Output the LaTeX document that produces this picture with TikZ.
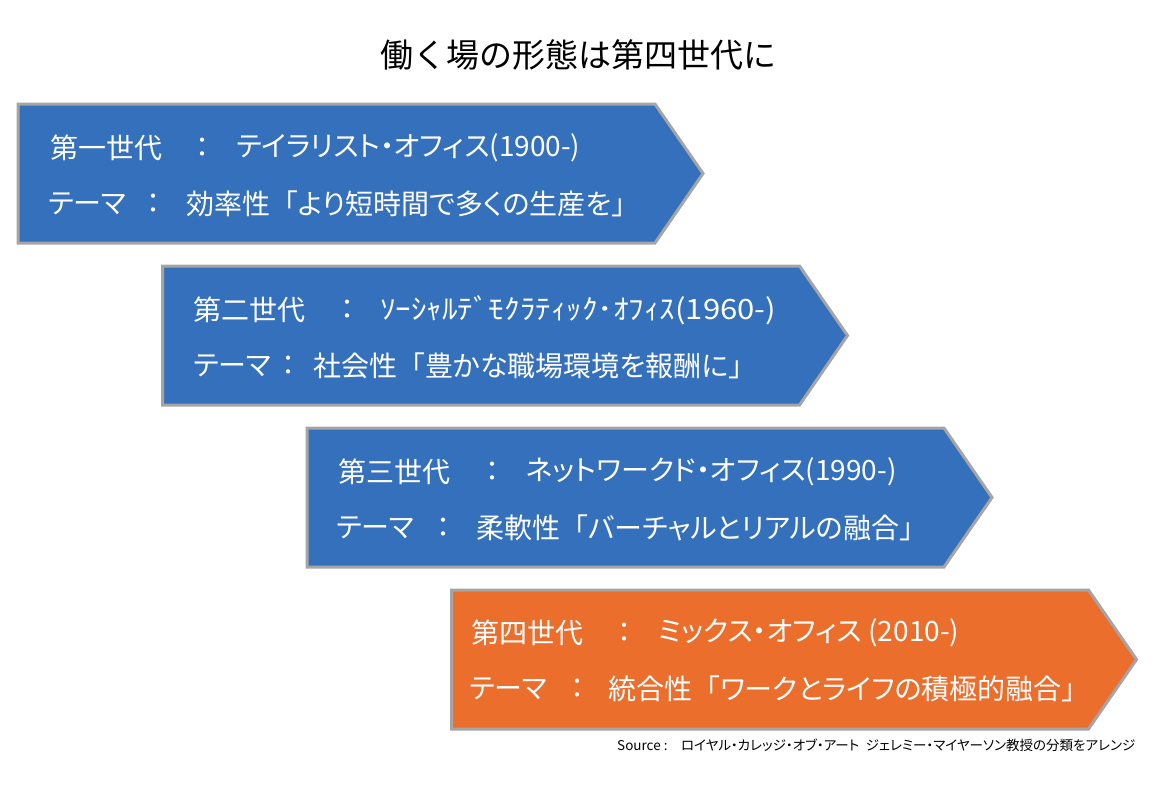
\documentclass[tikz,border=0pt]{standalone}
\usepackage{fontspec}
\setmainfont[RawFeature=+palt]{Noto Sans CJK JP}
\newfontfamily\jpfull{Noto Sans CJK JP}
\newfontfamily\jphalf[FakeStretch=1.11]{Noto Sans CJK JP}
\usepackage{xcolor}
\usepackage{tikz}

\definecolor{genblue}{RGB}{52,112,187}
\definecolor{genorange}{RGB}{235,110,45}
\definecolor{genedge}{RGB}{165,165,165}

\newcommand{\lbr}{{\jpfull 「}}
\newcommand{\rbr}{{\jpfull 」}}

\begin{document}
\begin{tikzpicture}[x=1pt, y=-1pt,
    genarrow/.style={draw=genedge, line width=3pt, line join=miter},
    gentext/.style={text=white, font=\fontsize{28}{32}\selectfont, anchor=west, inner sep=0pt},
    gencolon/.style={text=white, font=\fontsize{28}{32}\selectfont, inner sep=0pt}]
    \useasboundingbox (0,0) rectangle (1157,800);

    % Title
    \node[font=\jpfull\fontsize{33}{38}\selectfont] (title) at (578,55) {働く場の形態は第四世代に};

    % Arrows
    \foreach \i/\col in {0/genblue, 1/genblue, 2/genblue, 3/genorange} {
        \pgfmathsetmacro{\lx}{18+144.5*\i}
        \pgfmathsetmacro{\ty}{104+162*\i}
        \draw[genarrow, fill=\col] (\lx,\ty) -- ++(637,0) -- ++(48,69.5)
            -- ++(-48,69.5) -- ++(-637,0) -- cycle;
    }

    % First generation
    \node[gentext] (gen1) at (50,148) {第一世代};
    \node[gencolon] (gen1colon) at (202,148) {：};
    \node[gentext] (gen1office) at (236,148) {テイラリスト・オフィス(1900-)};
    \node[gentext] (theme1) at (48,204) {テーマ};
    \node[gencolon] (theme1colon) at (153,204) {：};
    \node[gentext] (theme1value) at (186,204) {効率性\lbr より短時間で多くの生産を\rbr};

    % Second generation
    \node[gentext] (gen2) at (193,310) {第二世代};
    \node[gencolon] (gen2colon) at (347,310) {：};
    \node[gentext, font=\jphalf\fontsize{28}{32}\selectfont] (gen2office) at (380,310) {ｿｰｼｬﾙﾃﾞﾓｸﾗﾃｨｯｸ･ｵﾌｨｽ(1960-)};
    \node[gentext] (theme2) at (193,366) {テーマ};
    \node[gencolon] (theme2colon) at (288,366) {：};
    \node[gentext] (theme2value) at (313,366) {社会性\lbr 豊かな職場環境を報酬に\rbr};

    % Third generation
    \node[gentext] (gen3) at (338,472) {第三世代};
    \node[gencolon] (gen3colon) at (492,472) {：};
    \node[gentext] (gen3office) at (526,472) {ネットワークド・オフィス(1990-)};
    \node[gentext] (theme3) at (336,528) {テーマ};
    \node[gencolon] (theme3colon) at (443,528) {：};
    \node[gentext] (theme3value) at (476,528) {柔軟性\lbr バーチャルとリアルの融合\rbr};

    % Fourth generation
    \node[gentext] (gen4) at (471,633) {第四世代};
    \node[gencolon] (gen4colon) at (624,633) {：};
    \node[gentext] (gen4office) at (658,633) {ミックス・オフィス (2010-)};
    \node[gentext] (theme4) at (469,689) {テーマ};
    \node[gencolon] (theme4colon) at (577,689) {：};
    \node[gentext] (theme4value) at (608,689) {統合性\lbr ワークとライフの積極的融合\rbr};

    % Source
    \node[anchor=west, inner sep=0pt, font=\fontsize{13.5}{16}\selectfont] (source) at (617,745)
        {Source :\quad ロイヤル・カレッジ・オブ・アート\enspace ジェレミー・マイヤーソン教授の分類をアレンジ};
\end{tikzpicture}
\end{document}
